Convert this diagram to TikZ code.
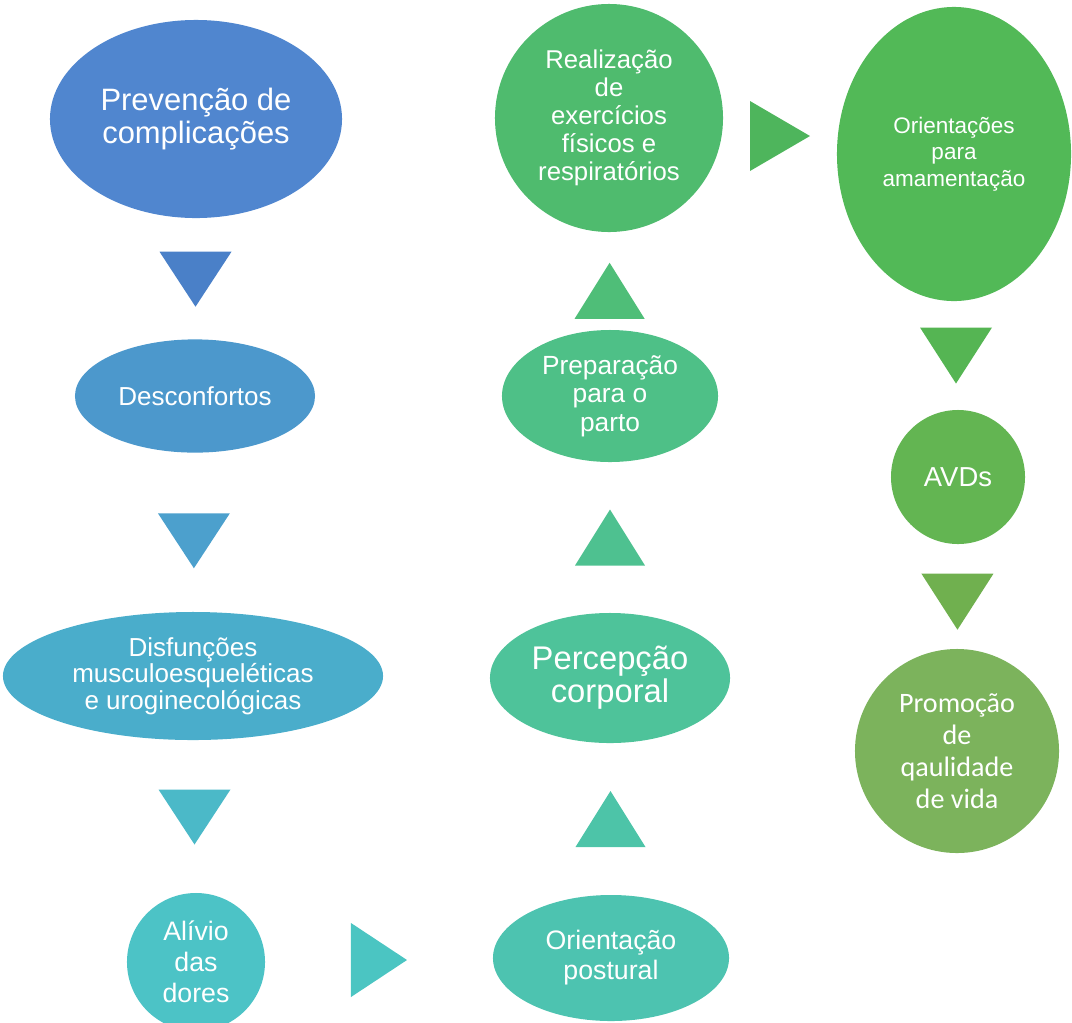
\documentclass[tikz,border=0pt]{standalone}
\usepackage{fontspec}
\setmainfont{Liberation Sans}
\newfontfamily\calibrifont{Carlito}
\usetikzlibrary{shapes.geometric,positioning,calc}
\definecolor{cprev}{RGB}{80,134,207}
\definecolor{ctria}{RGB}{74,128,200}
\definecolor{cdesc}{RGB}{76,152,204}
\definecolor{ctrib}{RGB}{76,160,205}
\definecolor{cdisf}{RGB}{74,173,203}
\definecolor{ctric}{RGB}{75,185,200}
\definecolor{calivio}{RGB}{76,195,198}
\definecolor{ctrid}{RGB}{75,197,194}
\definecolor{corient}{RGB}{77,195,176}
\definecolor{ctrie}{RGB}{77,196,168}
\definecolor{cperc}{RGB}{78,195,154}
\definecolor{ctrif}{RGB}{78,193,144}
\definecolor{cprep}{RGB}{78,192,135}
\definecolor{ctrig}{RGB}{79,190,120}
\definecolor{creal}{RGB}{79,187,110}
\definecolor{ctrih}{RGB}{78,181,92}
\definecolor{camam}{RGB}{82,185,87}
\definecolor{ctrii}{RGB}{85,181,83}
\definecolor{cavd}{RGB}{99,181,82}
\definecolor{ctrij}{RGB}{112,176,79}
\definecolor{cprom}{RGB}{124,179,92}

\begin{document}
\begin{tikzpicture}[
  x=0.025cm, y=-0.025cm,
  bubble/.style={ellipse, inner sep=0pt, text=white, align=center},
  disc/.style={circle, inner sep=0pt, text=white, align=center}
]
\useasboundingbox (0,0) rectangle (1072,1022);

% left column, going down
\node[bubble, fill=cprev, minimum width=7.3cm, minimum height=4.95cm,
      font=\fontsize{22}{23}\selectfont] (prev) at (196,119)
  {Prevenção de\\complicações};
\node[bubble, fill=cdesc, minimum width=6cm, minimum height=2.83cm,
      font=\fontsize{18.5}{20}\selectfont] (desc) at (195,396) {Desconfortos};
\node[bubble, fill=cdisf, minimum width=9.5cm, minimum height=3.2cm,
      font=\fontsize{18.5}{19}\selectfont] (disf) at (193,676)
  {Disfunções\\musculoesqueléticas\\e uroginecológicas};
\node[disc, fill=calivio, minimum size=3.45cm,
      font=\fontsize{19}{22}\selectfont] (alivio) at (196,962)
  {Alívio\\das\\dores};

% middle column, going up
\node[bubble, fill=corient, minimum width=5.9cm, minimum height=3.15cm,
      font=\fontsize{19}{21.3}\selectfont] (orient) at (611,958)
  {Orientação\\postural};
\node[bubble, fill=cperc, minimum width=6cm, minimum height=3.25cm,
      font=\fontsize{23.3}{23.5}\selectfont] (perc) at (610,678)
  {Percepção\\corporal};
\node[bubble, fill=cprep, minimum width=5.4cm, minimum height=3.3cm,
      font=\fontsize{18.7}{20.3}\selectfont] (prep) at (610,396)
  {Preparação\\para o\\parto};
\node[disc, fill=creal, minimum size=5.7cm,
      font=\fontsize{18.3}{20}\selectfont] (real) at (609,118)
  {Realização\\de\\exercícios\\físicos e\\respiratórios};

% right column, going down
\node[bubble, fill=camam, minimum width=5.85cm, minimum height=7.35cm,
      font=\fontsize{16}{18.8}\selectfont] (amam) at (954,154)
  {Orientações\\para\\amamentação};
\node[disc, fill=cavd, minimum size=3.35cm,
      font=\fontsize{19.5}{20}\selectfont] (avd) at (958,477) {AVDs};
\node[disc, fill=cprom, minimum size=5.1cm,
      font=\calibrifont\fontsize{20}{22.8}\selectfont] (prom) at (957,751)
  {Promoção\\de\\qaulidade\\de vida};

% triangle markers between the bubbles
\coordinate (t1) at ($(prev.south)!0.5!(desc.north)$);
\coordinate (t2) at ($(desc.south)!0.55!(disf.north)$);
\coordinate (t3) at ($(disf.south)!0.5!(alivio.north)$);
\coordinate (t4) at ($(alivio.east)!0.5!(orient.west)$);
\coordinate (t5) at ($(orient.north)!0.5!(perc.south)$);
\coordinate (t6) at ($(perc.north)!0.5!(prep.south)$);
\coordinate (t7) at ($(prep.north)!0.4!(real.south)$);
\coordinate (t8) at ($(real.east)!0.5!(amam.west)$);
\coordinate (t9) at ($(amam.south)!0.5!(avd.north)$);
\coordinate (t10) at ($(avd.south)!0.55!(prom.north)$);

\fill[ctria, shift={(t1)}] (-36,-27) -- (36,-27) -- (0,28) -- cycle;
\fill[ctrib, shift={(t2)}] (-36,-27) -- (36,-27) -- (0,28) -- cycle;
\fill[ctric, shift={(t3)}] (-36,-27) -- (36,-27) -- (0,28) -- cycle;
\fill[ctrid, shift={(t4)}] (-28,-37) -- (-28,37) -- (28,0) -- cycle;
\fill[ctrie, shift={(t5)}] (-35,28) -- (35,28) -- (0,-28) -- cycle;
\fill[ctrif, shift={(t6)}] (-35,28) -- (35,28) -- (0,-28) -- cycle;
\fill[ctrig, shift={(t7)}] (-35,28) -- (35,28) -- (0,-28) -- cycle;
\fill[ctrih, shift={(t8)}] (-30,-35) -- (-30,35) -- (30,0) -- cycle;
\fill[ctrii, shift={(t9)}] (-36,-28) -- (36,-28) -- (0,28) -- cycle;
\fill[ctrij, shift={(t10)}] (-36,-28) -- (36,-28) -- (0,28) -- cycle;

\end{tikzpicture}
\end{document}
